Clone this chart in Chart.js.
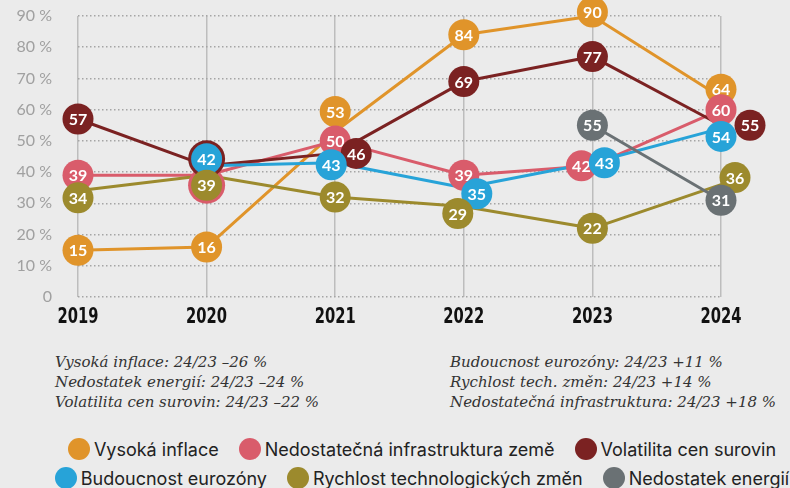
<!DOCTYPE html>
<html><head><meta charset="utf-8">
<script src="https://cdn.jsdelivr.net/npm/chart.js@4/dist/chart.umd.min.js"></script>
<style>
html,body{margin:0;padding:0;background:#ebebeb;}
#wrap{position:relative;width:790px;height:488px;overflow:hidden;background:#ebebeb;}
#c{position:absolute;left:0;top:0;}
.notes{position:absolute;top:352px;font-family:"DejaVu Serif",serif;font-style:italic;font-size:15px;line-height:20px;color:#333;white-space:nowrap;}
.legend{position:absolute;left:27px;width:790px;height:28px;display:flex;justify-content:center;align-items:center;font-family:Inter,sans-serif;font-size:18px;color:#222;white-space:nowrap;}
.item{display:flex;align-items:center;margin:0 10px;}
.dot{width:22px;height:22px;border-radius:50%;margin-right:4px;flex:none;}
</style></head><body>
<div id="wrap"><canvas id="c" width="790" height="330"></canvas>
<div class="notes" id="n1" style="left:55px"></div>
<div class="notes" id="n2" style="left:450px"></div>
<div class="legend" id="l1" style="top:435px"></div>
<div class="legend" id="l2" style="top:464px"></div>
</div>
<script>
// ---- data ----
const years = ['2019', '2020', '2021', '2022', '2023', '2024'];
const seriesNames = ['Vysoká inflace', 'Nedostatečná infrastruktura země', 'Volatilita cen surovin', 'Budoucnost eurozóny', 'Rychlost technologických změn', 'Nedostatek energií'];
const vysokaInflace   = [15, 16, 53, 84, 90, 64];
const infrastruktura  = [39, 39, 50, 39, 42, 60];
const volatilitaCen   = [57, 42, 46, 69, 77, 55];
const budoucnostEuro  = [null, 42, 43, 35, 43, 54];
const rychlostTech    = [34, 39, 32, 29, 22, 36];
const nedostatekEnerg = [null, null, null, null, 55, 31];
const yTickValues = [0, 10, 20, 30, 40, 50, 60, 70, 80, 90];
const notesLeft = ['Vysoká inflace: 24/23 –26 %', 'Nedostatek energií: 24/23 –24 %', 'Volatilita cen surovin: 24/23 –22 %'];
const notesRight = ['Budoucnost eurozóny: 24/23 +11 %', 'Rychlost tech. změn: 24/23 +14 %', 'Nedostatečná infrastruktura: 24/23 +18 %'];

// ---- styles ----
const colors = ['#E0942A', '#D95C6B', '#7B2222', '#27A3D8', '#9C8A2D', '#6A7174'];
const zOrder = [5, 4, 3, 2, 1, 0]; // lower = drawn on top
const allValues = [vysokaInflace, infrastruktura, volatilitaCen, budoucnostEuro, rychlostTech, nedostatekEnerg];
// label-badge nudges (px) to avoid collisions, key "series-yearIndex"
const labelNudge = {
  '4-0': [0, 7],
  '0-2': [0, -20], '0-4': [0, -4], '0-5': [0, -8],
  '1-1': [0, 10], '4-1': [0, 10],
  '2-1': [0, -7], '3-1': [0, -7],
  '2-2': [21, 0], '3-2': [-4, 2],
  '3-3': [13, 6], '4-3': [-6, 7],
  '1-4': [-11, 0], '3-4': [12, 0],
  '2-5': [29, 0], '3-5': [0, 8], '4-5': [14, -7]
};

const badgePlugin = {
  id: 'badges',
  afterDatasetsDraw(chart) {
    const ctx = chart.ctx;
    const metas = chart.getSortedVisibleDatasetMetas();
    ctx.save();
    for (let m = metas.length - 1; m >= 0; m--) {
      const meta = metas[m];
      const di = meta.index;
      const vals = allValues[di];
      meta.data.forEach((el, j) => {
        const v = vals[j];
        if (v === null || v === undefined) return;
        const nd = labelNudge[di + '-' + j] || [0, 0];
        const x = el.x + nd[0], y = el.y + nd[1];
        let r = 15.5;
        for (let k = 0; k < allValues.length; k++) {
          if (k !== di && zOrder[k] < zOrder[di] && allValues[k][j] === v) r = 18.5;
        }
        ctx.beginPath();
        ctx.arc(x, y, r, 0, Math.PI * 2);
        ctx.fillStyle = colors[di];
        ctx.fill();
        ctx.fillStyle = '#ffffff';
        ctx.font = '700 16px Lato, sans-serif';
        ctx.textAlign = 'center';
        ctx.textBaseline = 'middle';
        ctx.fillText(String(v), x, y + 1);
      });
    }
    ctx.restore();
  }
};

const yearLabelPlugin = {
  id: 'yearLabels',
  afterDraw(chart) {
    const ctx = chart.ctx;
    const xs = chart.scales.x;
    ctx.save();
    ctx.font = 'bold 21px "DejaVu Sans Condensed", "DejaVu Sans", sans-serif';
    ctx.fillStyle = '#111';
    ctx.textAlign = 'center';
    ctx.textBaseline = 'middle';
    const w = ctx.measureText('2019').width;
    const sx = 41 / w;
    years.forEach((lab, i) => {
      const px = xs.getPixelForValue(i);
      ctx.save();
      ctx.translate(px, chart.chartArea.bottom + 21);
      ctx.scale(sx, 1);
      ctx.fillText(lab, 0, 0);
      ctx.restore();
    });
    ctx.restore();
  }
};

const datasets = allValues.map((vals, i) => ({
  label: seriesNames[i],
  data: vals,
  borderColor: colors[i],
  backgroundColor: colors[i],
  borderWidth: 3,
  pointRadius: 0,
  pointHoverRadius: 0,
  tension: 0,
  order: zOrder[i],
  clip: false
}));

new Chart(document.getElementById('c'), {
  type: 'line',
  data: { labels: years, datasets },
  options: {
    responsive: false,
    animation: false,
    events: [],
    layout: { padding: { top: 16, right: 69, left: 0, bottom: 0 } },
    plugins: { legend: { display: false }, tooltip: { enabled: false } },
    elements: { line: { borderJoinStyle: 'round', borderCapStyle: 'round' } },
    scales: {
      x: {
        offset: false,
        afterFit: s => { s.height = 33; s.paddingTop = 0; s.paddingBottom = 0; },
        grid: { color: '#bdbdbd', lineWidth: 1.5, drawTicks: false },
        border: { display: false },
        ticks: { display: false }
      },
      y: {
        min: 0, max: 90,
        afterFit: s => { s.width = 78; s.paddingTop = 0; s.paddingBottom = 0; },
        afterBuildTicks: s => { s.ticks = yTickValues.map(v => ({ value: v })); },
        grid: { color: '#a5a5a5', lineWidth: 1.5, drawTicks: false },
        border: { display: false, dash: [1.5, 2.5] },
        ticks: { padding: 26, color: '#a0a0a0', font: { family: 'Lato, sans-serif', size: 16 },
          callback: v => v === 0 ? '0' : v + ' %' }
      }
    }
  },
  plugins: [badgePlugin, yearLabelPlugin]
});

document.getElementById('n1').innerHTML = notesLeft.join('<br>');
document.getElementById('n2').innerHTML = notesRight.join('<br>');
const rows = [[0, 1, 2], [3, 4, 5]];
rows.forEach((r, ri) => {
  const el = document.getElementById('l' + (ri + 1));
  r.forEach(i => {
    const it = document.createElement('div');
    it.className = 'item';
    const d = document.createElement('span');
    d.className = 'dot';
    d.style.background = colors[i];
    const t = document.createElement('span');
    t.textContent = seriesNames[i];
    it.appendChild(d); it.appendChild(t);
    el.appendChild(it);
  });
});
</script>
</body></html>
